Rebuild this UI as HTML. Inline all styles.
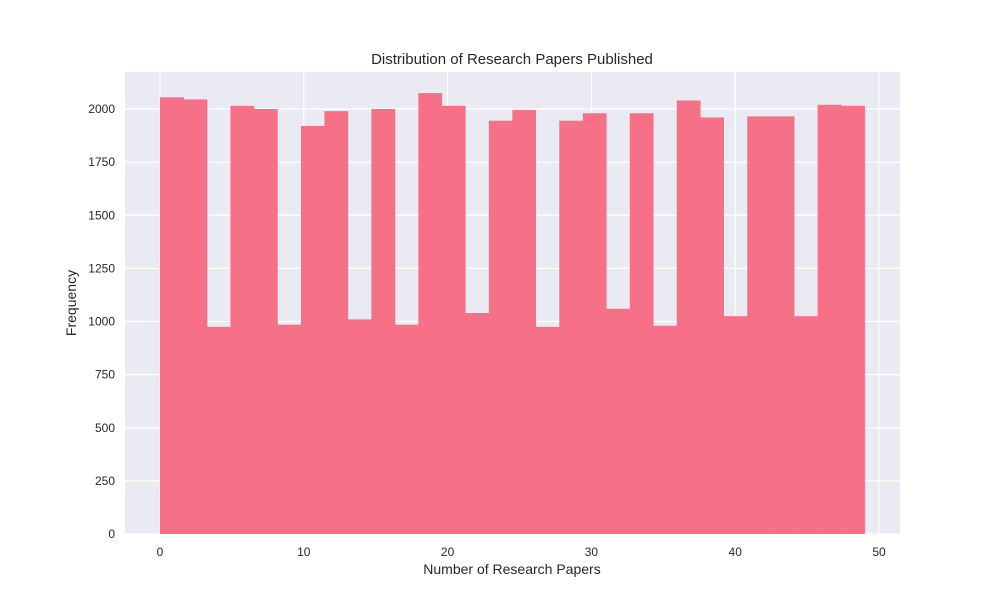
<!DOCTYPE html>
<html><head><meta charset="utf-8"><style>
body{margin:0;background:#fff;font-family:"Liberation Sans","DejaVu Sans",sans-serif;}
svg text{font-family:"Liberation Sans","DejaVu Sans",sans-serif;fill:#262626;}
</style></head><body>
<svg id="chart" width="1000" height="600">
<rect x="0" y="0" width="1000" height="600" fill="#fff"/>
<rect x="125" y="72" width="775" height="462" fill="#eaeaf2"/>
<g id="grid"></g><g id="bars"></g><g id="ticks"></g>
<text x="512" y="64" font-size="15" text-anchor="middle">Distribution of Research Papers Published</text>
<text x="512" y="574" font-size="14" text-anchor="middle">Number of Research Papers</text>
<text x="76" y="303" font-size="14" text-anchor="middle" transform="rotate(-90 76 303)">Frequency</text>
</svg>
<script>
const binStart = 0;
const binEnd = 49;
const counts = [2055,2045,975,2015,2000,985,1920,1990,1010,2000,985,2075,2015,1040,1945,1995,975,1945,1980,1060,1980,980,2040,1960,1025,1965,1965,1025,2020,2015];
const xTicks = [0,10,20,30,40,50];
const yTicks = [0,250,500,750,1000,1250,1500,1750,2000];
const NS = "http://www.w3.org/2000/svg";
const X = v => 160 + (v - 0) * (879 - 160) / 50;
const Y = v => 534 - v * (534 - 109) / 2000;
function mk(tag, attrs, parent){const e=document.createElementNS(NS,tag);for(const k in attrs)e.setAttribute(k,attrs[k]);parent.appendChild(e);return e;}
const grid=document.getElementById('grid'),bars=document.getElementById('bars'),ticks=document.getElementById('ticks');
xTicks.forEach(t=>{
  const l=mk('line',{x1:X(t),x2:X(t),y1:72,y2:534,stroke:'#fff','stroke-width':1.2},grid);
  
  
  const tx=mk('text',{x:X(t),y:556,'font-size':12,'text-anchor':'middle'},ticks);
  tx.textContent=t;
  
  
});
yTicks.forEach(t=>{
  const l=mk('line',{x1:125,x2:900,y1:Y(t),y2:Y(t),stroke:'#fff','stroke-width':1.2},grid);
  
  
  const tx=mk('text',{x:115,y:Y(t)+4,'font-size':12,'text-anchor':'end'},ticks);
  tx.textContent=t;
  
  
});
const w=(binEnd-binStart)/counts.length;
counts.forEach((c,i)=>{
  const x0=X(binStart+i*w),x1=X(binStart+(i+1)*w);
  const r=mk('rect',{x:x0,y:Y(c),width:x1-x0+0.3,height:Y(0)-Y(c),fill:'#f67088'},bars);
  
  
});
</script>
</body></html>
